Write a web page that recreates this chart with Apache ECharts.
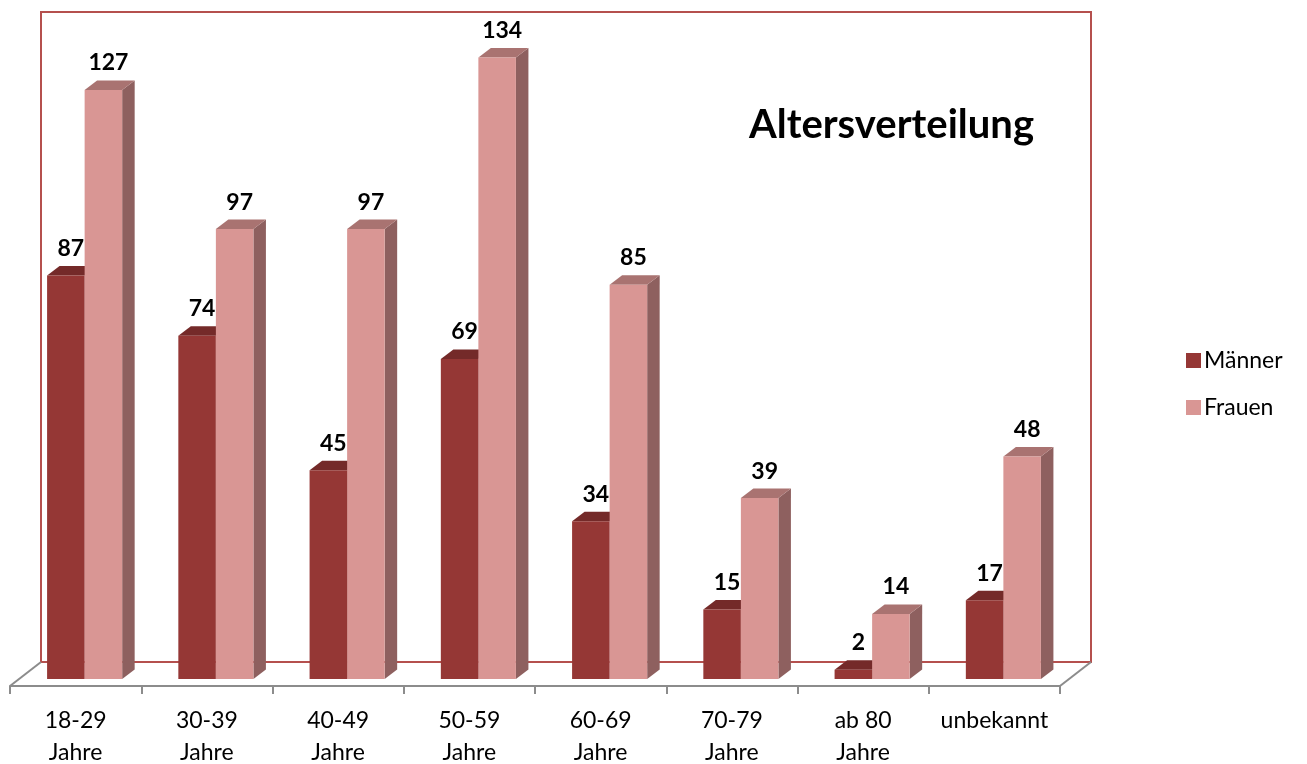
<!DOCTYPE html>
<html>
<head>
<meta charset="utf-8">
<script src="https://cdn.jsdelivr.net/npm/echarts@6/dist/echarts.min.js"></script>
<style>
  html, body { margin: 0; padding: 0; background: #ffffff; }
  #chart { width: 1307px; height: 764px; }
</style>
</head>
<body>
<div id="chart"></div>
<script>
// Age groups (two-line axis labels)
const categories = ['18-29\nJahre', '30-39\nJahre', '40-49\nJahre', '50-59\nJahre',
                    '60-69\nJahre', '70-79\nJahre', 'ab 80\nJahre', 'unbekannt'];
const seriesNames = ['Männer', 'Frauen'];
const maenner = [87, 74, 45, 69, 34, 15, 2, 17];
const frauen  = [127, 97, 97, 134, 85, 39, 14, 48];
const yMax = 140;

// Colours for front / top / side faces of each column set
const faces = [
  { front: '#953735', top: '#742a29', side: '#6e2826' },
  { front: '#d99694', top: '#a97371', side: '#8e605f' }
];

// Layout of the pseudo-3D box
const W = 1307, H = 764;
const floorFront = { left: 10, right: 1060, y: 686 };
const depth = { dx: 31, dy: -24 };          // floor depth (front edge to back wall)
const barShift = { dx: 9, dy: -7 };          // column front plane inside floor
const colDepth = { dx: 12.5, dy: -9.5 };     // column thickness
const pxPerUnit = 4.638;
const barBase = floorFront.y + barShift.dy;  // 679
const barGridTop = barBase - yMax * pxPerUnit;
const barFrac = 0.286;

function renderColumn(params, api) {
  const cat = api.value(0);
  const val = api.value(1);
  const base = api.coord([cat, 0]);
  const top = api.coord([cat, val]);
  const band = api.size([1, 0])[0];
  const bw = band * barFrac;
  const x0 = params.seriesIndex === 0 ? base[0] - bw : base[0];
  const f = faces[params.seriesIndex];
  const dx = colDepth.dx, dy = colDepth.dy;
  const yT = top[1], yB = base[1];
  return {
    type: 'group',
    children: [
      { type: 'polygon',
        shape: { points: [[x0 + bw, yT], [x0 + bw + dx, yT + dy], [x0 + bw + dx, yB + dy], [x0 + bw, yB]] },
        style: { fill: f.side } },
      { type: 'polygon',
        shape: { points: [[x0, yT], [x0 + dx, yT + dy], [x0 + bw + dx, yT + dy], [x0 + bw, yT]] },
        style: { fill: f.top } },
      { type: 'rect',
        shape: { x: x0, y: yT, width: bw, height: yB - yT },
        style: { fill: f.front } },
      { type: 'text',
        style: {
          text: String(val),
          x: x0 + bw / 2 + 5, y: yT + dy - 6,
          align: 'center', verticalAlign: 'bottom',
          fill: '#000000', font: 'bold 23px Lato'
        } }
    ]
  };
}

const chart = echarts.init(document.getElementById('chart'), null, { renderer: 'canvas' });

const option = {
  backgroundColor: '#ffffff',
  animation: false,
  title: {
    text: 'Altersverteilung',
    left: 744, top: 100,
    textStyle: { fontFamily: 'Lato', fontWeight: 'bold', fontSize: 40, color: '#000000' }
  },
  legend: {
    orient: 'vertical',
    left: 1181, top: 344,
    itemWidth: 15, itemHeight: 15, itemGap: 24,
    icon: 'rect',
    data: seriesNames,
    textStyle: { fontFamily: 'Lato', fontSize: 23, color: '#000000', padding: [0, 0, 0, -2] }
  },
  grid: [
    // columns
    { left: floorFront.left + barShift.dx, right: W - floorFront.right - barShift.dx,
      top: barGridTop, bottom: H - barBase, outerBoundsMode: 'none' },
    // back wall
    { left: floorFront.left + depth.dx, right: W - floorFront.right - depth.dx,
      top: 12, bottom: H - (floorFront.y + depth.dy), outerBoundsMode: 'none',
      show: true, borderColor: '#b5504e', borderWidth: 2, backgroundColor: 'transparent' },
    // floor front edge with category axis
    { left: floorFront.left, right: W - floorFront.right,
      top: 100, bottom: H - floorFront.y, outerBoundsMode: 'none' }
  ],
  xAxis: [
    { gridIndex: 0, type: 'category', data: categories, show: false },
    { gridIndex: 1, type: 'category', data: categories, show: false },
    { gridIndex: 2, type: 'category', data: categories,
      axisLine: { show: true, lineStyle: { color: '#8c8c8c', width: 2 } },
      axisTick: { show: true, length: 8, interval: 0, lineStyle: { color: '#8c8c8c', width: 2 } },
      axisLabel: { margin: 19, fontFamily: 'Lato', fontSize: 23,
                   color: '#000000', lineHeight: 32, interval: 0 } }
  ],
  yAxis: [
    { gridIndex: 0, type: 'value', min: 0, max: yMax, show: false },
    { gridIndex: 1, type: 'value', min: 0, max: yMax, show: false },
    { gridIndex: 2, type: 'value', show: false }
  ],
  graphic: [
    { type: 'line', z: 1,
      shape: { x1: floorFront.left, y1: floorFront.y, x2: floorFront.left + depth.dx, y2: floorFront.y + depth.dy },
      style: { stroke: '#8c8c8c', lineWidth: 2 } },
    { type: 'line', z: 1,
      shape: { x1: floorFront.right, y1: floorFront.y, x2: floorFront.right + depth.dx, y2: floorFront.y + depth.dy },
      style: { stroke: '#8c8c8c', lineWidth: 2 } }
  ],
  series: [
    { name: seriesNames[0], type: 'custom', xAxisIndex: 0, yAxisIndex: 0,
      itemStyle: { color: faces[0].front }, z: 3,
      renderItem: renderColumn,
      data: maenner.map((v, i) => [i, v]) },
    { name: seriesNames[1], type: 'custom', xAxisIndex: 0, yAxisIndex: 0,
      itemStyle: { color: faces[1].front }, z: 4,
      renderItem: renderColumn,
      data: frauen.map((v, i) => [i, v]) }
  ]
};

chart.setOption(option);
</script>
</body>
</html>
